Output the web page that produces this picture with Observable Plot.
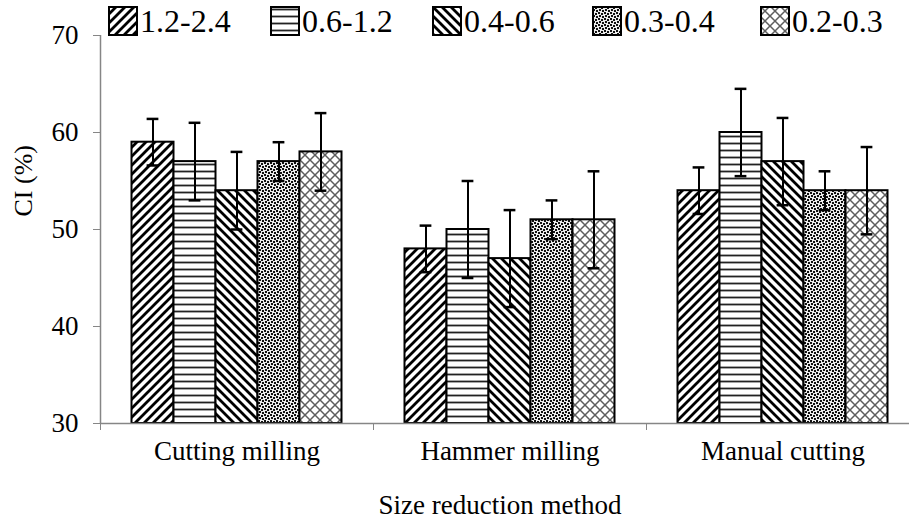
<!DOCTYPE html>
<html>
<head>
<meta charset="utf-8">
<script src="https://cdn.jsdelivr.net/npm/d3@7"></script>
<script src="https://cdn.jsdelivr.net/npm/@observablehq/plot@0.6"></script>
<style>
html, body { margin: 0; padding: 0; background: #fff; overflow: hidden; width: 909px; height: 520px; }
#wrap { position: relative; width: 909px; height: 520px; overflow: hidden; font-family: "Liberation Serif", "Times New Roman", serif; }
#chart { position: absolute; left: 0; top: 0; width: 909px; height: 520px; overflow: hidden; }
#chart svg { overflow: hidden; }
#legend { position: absolute; left: 0; top: 0; width: 909px; height: 40px; z-index: 2; }
.item { position: absolute; top: 5px; display: flex; align-items: center; font-size: 32px; line-height: 32px; color: #000; white-space: nowrap; }
.item svg { margin-right: 2px; display: block; }
</style>
</head>
<body>
<svg width="0" height="0" style="position:absolute">
  <defs>
    <pattern id="p0" patternUnits="userSpaceOnUse" width="9" height="9">
      <rect width="9" height="9" fill="#fff"/>
      <path d="M-2.25,2.25 L2.25,-2.25 M0,9 L9,0 M6.75,11.25 L11.25,6.75" stroke="#000" stroke-width="2.8"/>
    </pattern>
    <pattern id="p1" patternUnits="userSpaceOnUse" width="8" height="7">
      <rect width="8" height="7" fill="#fff"/>
      <path d="M0,3.5 L8,3.5" stroke="#222" stroke-width="1.8"/>
    </pattern>
    <pattern id="p2" patternUnits="userSpaceOnUse" width="9" height="9">
      <rect width="9" height="9" fill="#fff"/>
      <path d="M-2.25,6.75 L2.25,11.25 M0,0 L9,9 M6.75,-2.25 L11.25,2.25" stroke="#000" stroke-width="2.8"/>
    </pattern>
    <pattern id="p3" patternUnits="userSpaceOnUse" width="6" height="6">
      <rect width="6" height="6" fill="#ececec"/>
      <rect x="0" y="0" width="2" height="2" fill="#111"/>
      <rect x="3" y="1" width="2" height="2" fill="#111"/>
      <rect x="1" y="3" width="2" height="2" fill="#111"/>
      <rect x="4" y="4" width="2" height="2" fill="#111"/>
    </pattern>
    <pattern id="p4" patternUnits="userSpaceOnUse" width="10" height="10">
      <rect width="10" height="10" fill="#fff"/>
      <path d="M0,0 L10,10 M10,0 L0,10" stroke="#5e5e5e" stroke-width="1.5"/>
    </pattern>
  </defs>
</svg>
<div id="wrap">
  <div id="chart"></div>
  <div id="legend"></div>
</div>
<script>
// ---- data ----
const categories = ["Cutting milling", "Hammer milling", "Manual cutting"];
const sizes = ["1.2-2.4", "0.6-1.2", "0.4-0.6", "0.3-0.4", "0.2-0.3"];
const ci_12_24 = [59, 48, 54];
const ci_06_12 = [57, 50, 60];
const ci_04_06 = [54, 47, 57];
const ci_03_04 = [57, 51, 54];
const ci_02_03 = [58, 51, 54];
const err_12_24 = [2.4, 2.4, 2.4];
const err_06_12 = [4, 5, 4.5];
const err_04_06 = [4, 5, 4.5];
const err_03_04 = [2, 2, 2];
const err_02_03 = [4, 5, 4.5];
const yTicks = [30, 40, 50, 60, 70];

const seriesValues = [ci_12_24, ci_06_12, ci_04_06, ci_03_04, ci_02_03];
const seriesErrors = [err_12_24, err_06_12, err_04_06, err_03_04, err_02_03];
const patterns = ["url(#p0)", "url(#p1)", "url(#p2)", "url(#p3)", "url(#p4)"];

const rows = [];
sizes.forEach((s, j) => categories.forEach((c, i) => {
  rows.push({cat: c, ci: i, size: s, j, v: seriesValues[j][i], e: seriesErrors[j][i]});
}));

// band layout of sizes inside each category unit
const inner = d3.scaleBand().domain(sizes).range([0, 1]).paddingInner(0).paddingOuter(0.75);
const bw = inner.bandwidth();
const capHalf = bw * 0.14;
const left = d => d.ci + inner(d.size);
const mid = d => d.ci + inner(d.size) + bw / 2;

const gray = "#868686";
const FONT = '"Liberation Serif", "Times New Roman", serif';

const chart = Plot.plot({
  width: 909,
  height: 520,
  marginLeft: 100,
  marginRight: -10,
  marginTop: 35,
  marginBottom: 97,
  style: {fontFamily: FONT, fontSize: "27px", color: "#000", background: "transparent", overflow: "hidden"},
  x: {domain: [0, 3], label: null},
  y: {domain: [30, 70], label: null},
  color: {type: "identity"},
  marks: [
    Plot.rectY(rows, {x1: left, x2: d => left(d) + bw, y1: 30, y2: "v", fill: d => patterns[d.j], stroke: "#000", strokeWidth: 2}),
    Plot.ruleX(rows, {x: mid, y1: d => d.v - d.e, y2: d => d.v + d.e, stroke: "#000", strokeWidth: 2}),
    Plot.ruleY(rows, {x1: d => mid(d) - capHalf, x2: d => mid(d) + capHalf, y: d => d.v + d.e, stroke: "#000", strokeWidth: 2.5}),
    Plot.ruleY(rows, {x1: d => mid(d) - capHalf, x2: d => mid(d) + capHalf, y: d => d.v - d.e, stroke: "#000", strokeWidth: 2.5}),
    Plot.ruleX([0], {y1: 30, y2: 70, stroke: gray, strokeWidth: 1.5}),
    Plot.ruleY([30], {stroke: gray, strokeWidth: 1.5}),
    Plot.axisY({ticks: yTicks, tickSize: 7, tickPadding: 15, fontSize: 27, stroke: gray, label: null}),
    Plot.axisX({ticks: [0, 1, 2, 3], tickSize: 7, tickFormat: () => "", stroke: gray, label: null}),
    Plot.axisX({ticks: [0.5, 1.5, 2.5], tickSize: 0, tickPadding: 17, fontSize: 27, tickFormat: d => categories[Math.floor(d)], label: null}),
    Plot.text(["Size reduction method"], {frameAnchor: "bottom", dx: -10, dy: 82, fontSize: 27, lineAnchor: "middle"}),
    Plot.text(["CI (%)"], {frameAnchor: "left", dx: -77, dy: -13, rotate: -90, fontSize: 26, lineAnchor: "middle"})
  ]
});
document.getElementById("chart").appendChild(chart);

// legend
const legendLeft = [108, 270, 432, 592, 760];
const legend = document.getElementById("legend");
sizes.forEach((s, j) => {
  const item = document.createElement("div");
  item.className = "item";
  item.style.left = legendLeft[j] + "px";
  item.innerHTML = `<svg width="30" height="30"><rect x="1" y="1" width="28" height="28" fill="${patterns[j]}" stroke="#000" stroke-width="2"/></svg><span>${s}</span>`;
  legend.appendChild(item);
});
</script>
</body>
</html>
